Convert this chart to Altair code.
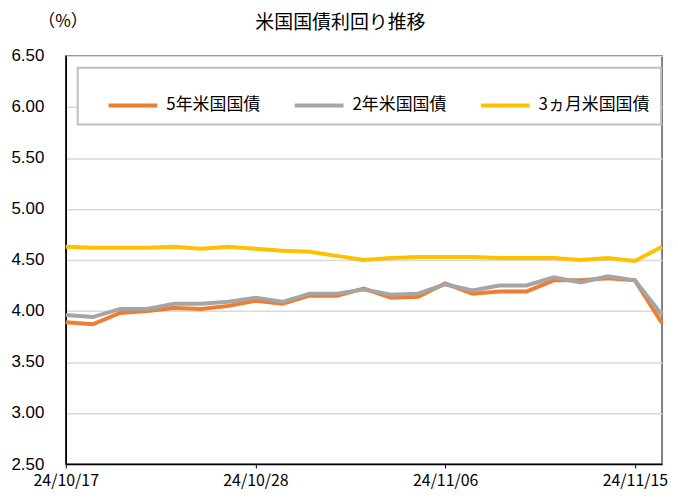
import altair as alt
import pandas as pd

dates = ["24/10/17", "24/10/18", "24/10/21", "24/10/22", "24/10/23", "24/10/24", "24/10/25",
         "24/10/28", "24/10/29", "24/10/30", "24/10/31", "24/11/01", "24/11/04", "24/11/05",
         "24/11/06", "24/11/07", "24/11/08", "24/11/11", "24/11/12", "24/11/13", "24/11/14",
         "24/11/15", "24/11/18"]
series_names = ["5年米国国債", "2年米国国債", "3ヵ月米国国債"]
yield_5y = [3.89, 3.87, 3.98, 4.00, 4.03, 4.02, 4.05, 4.10, 4.07, 4.15, 4.15, 4.22, 4.13, 4.14,
            4.27, 4.17, 4.19, 4.19, 4.30, 4.30, 4.32, 4.30, 3.88]
yield_2y = [3.96, 3.94, 4.02, 4.02, 4.07, 4.07, 4.09, 4.13, 4.09, 4.17, 4.17, 4.21, 4.16, 4.17,
            4.26, 4.20, 4.25, 4.25, 4.33, 4.28, 4.34, 4.30, 3.96]
yield_3m = [4.63, 4.62, 4.62, 4.62, 4.63, 4.61, 4.63, 4.61, 4.59, 4.58, 4.54, 4.50, 4.52, 4.53,
            4.53, 4.53, 4.52, 4.52, 4.52, 4.50, 4.52, 4.49, 4.63]
x_tick_labels = ["24/10/17", "24/10/28", "24/11/06", "24/11/15"]
y_ticks = [2.5, 3.0, 3.5, 4.0, 4.5, 5.0, 5.5, 6.0, 6.5]
colors = ["#ED7D31", "#A5A5A5", "#FFC000"]

rows = []
for name, vals in zip(series_names, [yield_5y, yield_2y, yield_3m]):
    for d, v in zip(dates, vals):
        rows.append({"date": d, "series": name, "value": v})
df = pd.DataFrame(rows)

CJK = "Noto Sans CJK JP"

chart = alt.Chart(df).mark_line(strokeWidth=4, strokeJoin="miter").encode(
    x=alt.X("date:O", sort=dates, scale=alt.Scale(type="point", padding=0),
            axis=alt.Axis(values=x_tick_labels, labelAngle=0, title=None, grid=False,
                          domainColor="#000000", domainWidth=1.5, tickColor="#000000",
                          tickSize=4, labelPadding=5, labelFont=CJK, labelFontSize=16,
                          labelColor="#000000")),
    y=alt.Y("value:Q", scale=alt.Scale(domain=[2.5, 6.5], nice=False, zero=False),
            axis=alt.Axis(values=y_ticks, format=".2f", title="（%）", titleAngle=0,
                          titleAlign="left", titleBaseline="middle", titleX=-28, titleY=-35,
                          titleFont=CJK, titleFontSize=17, titleFontWeight="normal",
                          titleColor="#000000",
                          grid=True, gridColor="#D9D9D9", gridWidth=1.5,
                          domainColor="#000000", domainWidth=1.5, tickSize=0,
                          labelPadding=22, labelFont="Liberation Sans", labelFontSize=17,
                          labelColor="#000000")),
    color=alt.Color("series:N", sort=series_names,
                    scale=alt.Scale(domain=series_names, range=colors),
                    legend=alt.Legend(title=None, orient="none", legendX=12, legendY=12,
                                      direction="horizontal", columns=3,
                                      symbolType="stroke", symbolSize=2400,
                                      symbolStrokeWidth=4, symbolOffset=18,
                                      labelOffset=7, columnPadding=14,
                                      labelFont=CJK, labelFontSize=17,
                                      labelColor="#000000", labelLimit=300,
                                      fillColor="#FFFFFF", strokeColor="#BFBFBF",
                                      padding=11)),
).properties(
    width=599, height=410,
    title=alt.TitleParams("米国国債利回り推移", font=CJK, fontSize=19, fontWeight="normal",
                          color="#000000", anchor="middle", frame="bounds", offset=-21),
    padding={"left": 2, "top": 3, "right": 0, "bottom": 0},
).configure_view(
    stroke="#595959", strokeWidth=1.5
).configure_legend(
    strokeWidth=2
)

chart.save("out.html", embed_options={"renderer": "svg", "actions": False})
